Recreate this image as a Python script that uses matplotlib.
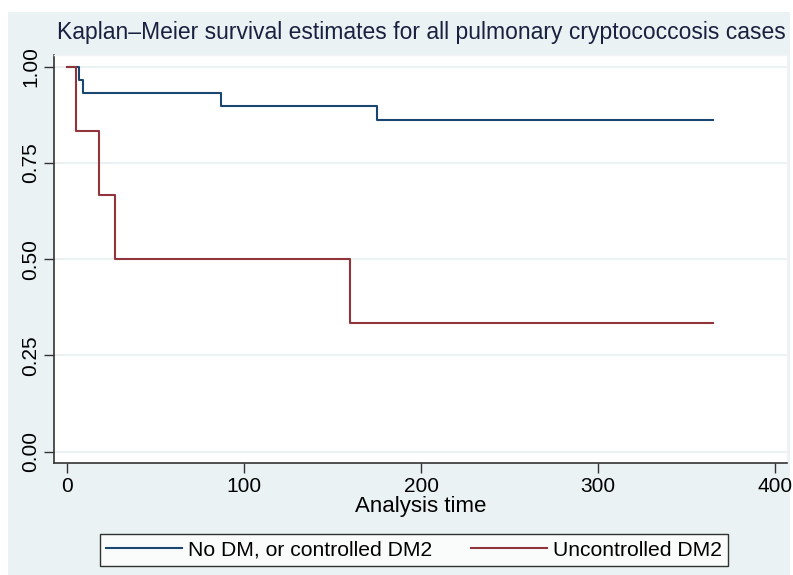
import numpy as np
import matplotlib.pyplot as plt
from matplotlib.patches import Rectangle
from matplotlib.lines import Line2D

# Kaplan-Meier step values
time_ctrl = [0, 7, 9, 87, 175, 365]
surv_ctrl = [1.0, 0.966, 0.931, 0.897, 0.862, 0.862]

time_unctrl = [0, 5, 18, 27, 160, 365]
surv_unctrl = [1.0, 0.833, 0.667, 0.5, 0.333, 0.333]

labels = ['No DM, or controlled DM2', 'Uncontrolled DM2']
xticks = [0, 100, 200, 300, 400]
yticks = [0.0, 0.25, 0.5, 0.75, 1.0]

plt.rcParams['font.family'] = ['Liberation Sans', 'DejaVu Sans']

BG = '#eaf2f3'
BLUE = '#1a476f'
RED = '#90353b'

fig = plt.figure(figsize=(7.93, 5.75), dpi=100)
fig.patch.set_facecolor('white')
# stata style light background panel
fig.patches.append(Rectangle((8 / 793, 0), 782 / 793, 1 - 12 / 575,
                             transform=fig.transFigure, facecolor=BG,
                             edgecolor='none', zorder=-10))

ax = fig.add_axes([54 / 793, 1 - 463.3 / 575, (787 - 54) / 793, (463.3 - 55) / 575])
ax.set_facecolor('white')

for y in yticks:
    ax.axhline(y, color=BG, lw=1.5, zorder=0)

ax.step(time_ctrl, surv_ctrl, where='post', color=BLUE, lw=1.5, zorder=3)
ax.step(time_unctrl, surv_unctrl, where='post', color=RED, lw=1.5, zorder=4)

ax.set_xlim(-7.4, 406.6)
ax.set_ylim(-0.030, 1.030)
ax.set_xticks(xticks)
ax.set_yticks(yticks)
ax.set_yticklabels(['%.2f' % v for v in yticks], rotation=90, va='center')
ax.tick_params(axis='both', labelsize=15, length=7, width=1, color='#333333',
               labelcolor='black', pad=3)

for side in ['left', 'bottom']:
    ax.spines[side].set_color('#333333')
    ax.spines[side].set_linewidth(1.2)
for side in ['top', 'right']:
    ax.spines[side].set_color('#f0f4f4')
    ax.spines[side].set_linewidth(1)

ax.set_xlabel('Analysis time', fontsize=16, labelpad=0)

fig.text(786 / 793, 1 - 33 / 575,
         'Kaplan\u2013Meier survival estimates for all pulmonary cryptococcosis cases',
         ha='right', va='center', fontsize=16.5, color='#1a2140')

handles = [Line2D([], [], color=BLUE, lw=1.5), Line2D([], [], color=RED, lw=1.5)]
leg = fig.legend(handles, labels, ncol=2, loc='center',
                 bbox_to_anchor=(414 / 793, 1 - 550 / 575), fontsize=15.2,
                 frameon=True, fancybox=False, edgecolor='black',
                 handlelength=3.6, handletextpad=0.3, columnspacing=1.8,
                 borderpad=0.3, borderaxespad=0)
leg.get_frame().set_linewidth(1)
leg.get_frame().set_facecolor('white')

fig.savefig('out.png', dpi=100, facecolor=fig.get_facecolor())
